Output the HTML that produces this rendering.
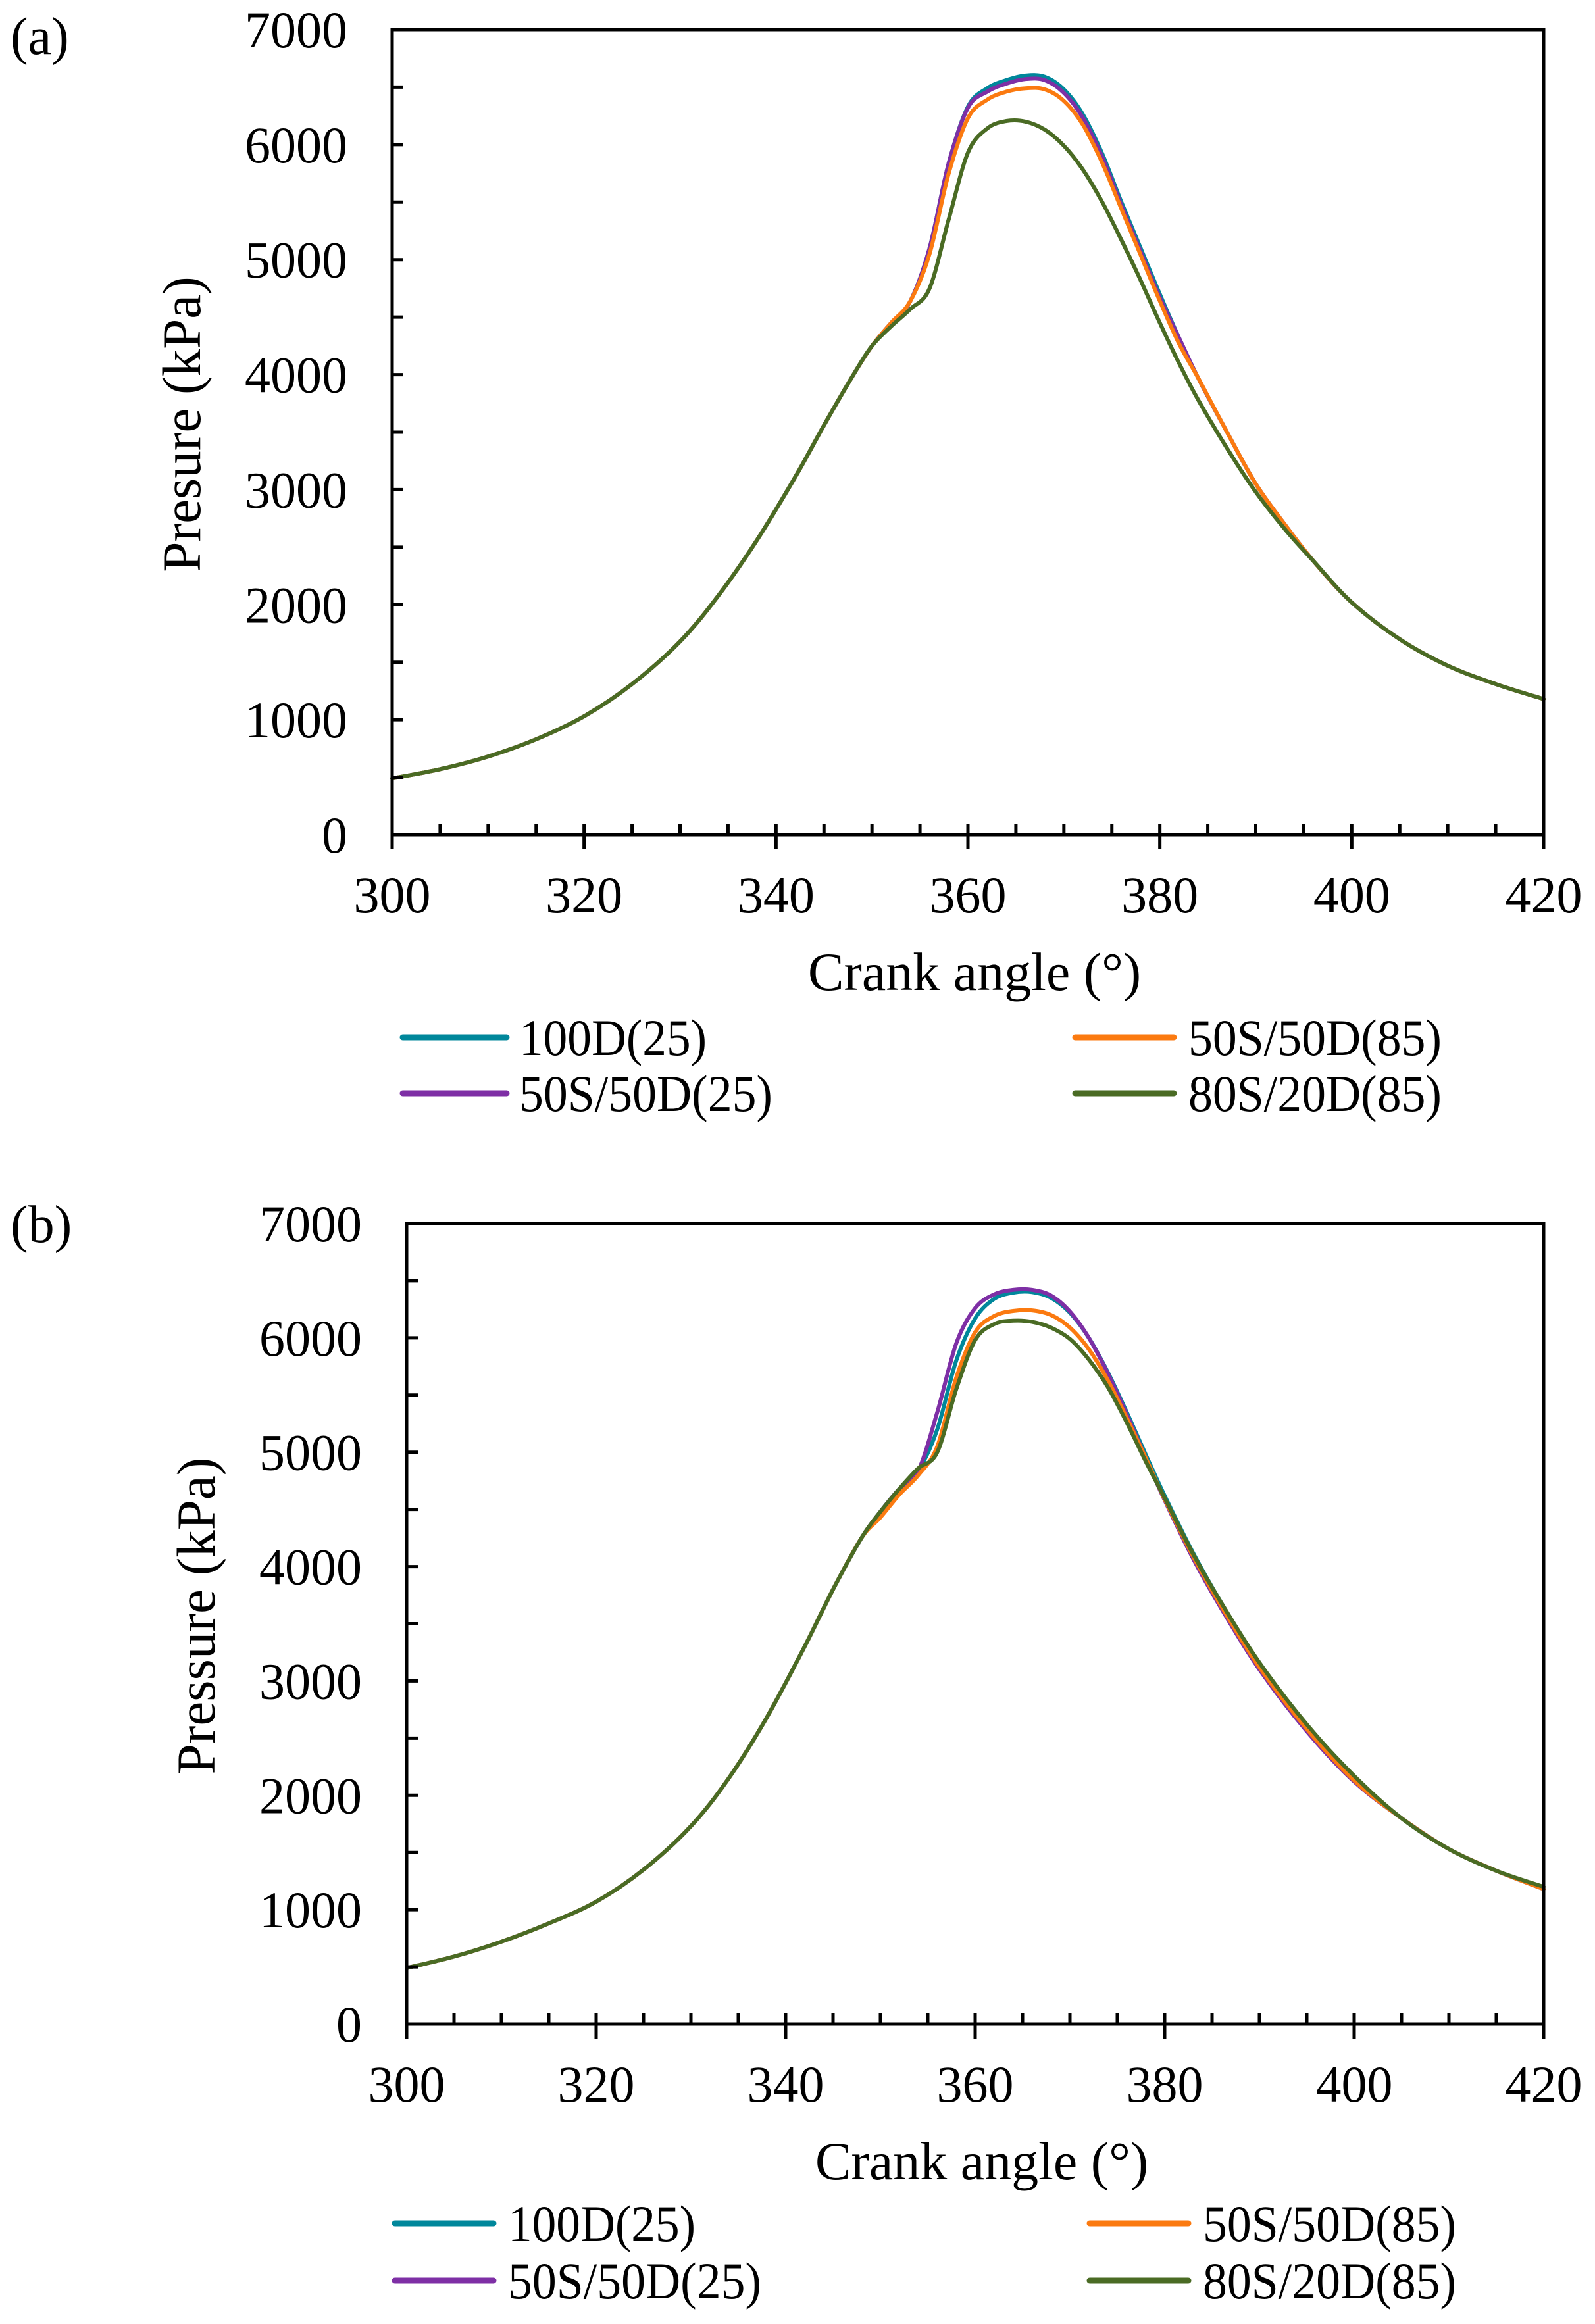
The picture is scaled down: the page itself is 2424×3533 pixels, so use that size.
<!DOCTYPE html>
<html><head><meta charset="utf-8"><style>
html,body{margin:0;padding:0;background:#fff;}
svg{display:block;}
text{font-family:"Liberation Serif","Times New Roman",serif;fill:#000;}
</style></head><body>
<svg id="s" width="2424" height="3533" viewBox="0 0 2424 3533" xmlns="http://www.w3.org/2000/svg">
<rect width="2424" height="3533" fill="#fff"/>
<text x="16" y="82" font-size="80">(a)</text>
<text x="16" y="1888" font-size="80">(b)</text>
<g id="ga"></g><g id="gb"></g>
</svg>
<script>
var NS="http://www.w3.org/2000/svg";
function el(p,n,a,t){var e=document.createElementNS(NS,n);for(var k in a)e.setAttribute(k,a[k]);if(t!==undefined)e.textContent=t;p.appendChild(e);return e;}
function path(pts){
  var d="M"+pts[0][0].toFixed(1)+","+pts[0][1].toFixed(1);
  for(var i=0;i<pts.length-1;i++){
    var p0=pts[i-1]||pts[i],p1=pts[i],p2=pts[i+1],p3=pts[i+2]||p2;
    var c1=[p1[0]+(p2[0]-p0[0])/6,p1[1]+(p2[1]-p0[1])/6];
    var c2=[p2[0]-(p3[0]-p1[0])/6,p2[1]-(p3[1]-p1[1])/6];
    d+="C"+c1[0].toFixed(1)+","+c1[1].toFixed(1)+" "+c2[0].toFixed(1)+","+c2[1].toFixed(1)+" "+p2[0].toFixed(1)+","+p2[1].toFixed(1);
  }
  return d;
}
function merge(base,over){var m={};base.forEach(function(p){m[p[0]]=p[1];});over.forEach(function(p){m[p[0]]=p[1];});
  return Object.keys(m).map(Number).sort(function(a,b){return a-b;}).map(function(k){return [k,m[k]];});}
function chart(g,L,R,T,B,leg,series){
  var X=function(v){return L+(v-300)/120*(R-L);},Y=function(v){return B-v/7000*(B-T);};
  series.forEach(function(s){
    el(g,"path",{d:path(s.pts.map(function(p){return [X(p[0]),Y(p[1])];})),fill:"none",stroke:s.c,"stroke-width":6,"stroke-linejoin":"round","stroke-linecap":"round"});
  });
  el(g,"rect",{x:L,y:T,width:R-L,height:B-T,fill:"none",stroke:"#000","stroke-width":5});
  for(var v=300;v<=420;v+=5){var x=X(v);
    if(v%20==0){el(g,"line",{x1:x,y1:B-17,x2:x,y2:B+22,stroke:"#000","stroke-width":5});
      el(g,"text",{x:x,y:B+118,"font-size":78,"text-anchor":"middle"},String(v));}
    else el(g,"line",{x1:x,y1:B-17,x2:x,y2:B,stroke:"#000","stroke-width":5});}
  for(var v=0;v<=7000;v+=500){var y=Y(v);
    el(g,"line",{x1:L,y1:y,x2:L+17,y2:y,stroke:"#000","stroke-width":5});
    if(v%1000==0)el(g,"text",{x:L-68,y:y+27,"font-size":78,"text-anchor":"end"},String(v));}
  el(g,"text",{x:(L+R)/2+10,y:B+236,"font-size":82,"text-anchor":"middle"},"Crank angle (°)");
  var cy=(T+B)/2-12;
  el(g,"text",{x:0,y:0,"font-size":83,"text-anchor":"middle",transform:"translate("+(L-292)+","+cy+") rotate(-90)"},leg.ylab);
  leg.items.forEach(function(it){
    el(g,"line",{x1:it.x1,y1:it.y,x2:it.x2,y2:it.y,stroke:it.c,"stroke-width":9,"stroke-linecap":"round"});
    el(g,"text",{x:it.tx,y:it.y+27,"font-size":78,textLength:it.w,lengthAdjust:"spacingAndGlyphs"},it.t);
  });
}
var C={t:"#00879b",o:"#fb7a10",p:"#7e2fa5",g:"#4a6b24"};
var baseA=[[300,490],[305,570],[310,680],[315,830],[320,1030],[325,1310],[330,1680],[334,2080],[338,2560],[342,3110],[345,3560],[348,3990],[350,4250],[352,4450],[354,4640],[356,5100],[358,5840],[360,6330],[362,6490],[364,6560],[366,6600],[368,6590],[370,6480],[372,6260],[374,5920],[376,5500],[378,5100],[380,4700],[382,4320],[384,3970],[387,3500],[390,3050],[393,2700],[396,2380],[400,2020],[405,1700],[410,1470],[415,1310],[420,1180]];
var aP=merge(baseA,[[360,6320],[362,6460],[364,6530],[366,6570],[368,6560],[370,6450],[372,6230],[374,5890],[376,5470],[378,5070],[380,4670]]);
var aO=merge(baseA,[[356,5050],[358,5750],[360,6230],[362,6390],[364,6460],[366,6490],[368,6480],[370,6380],[372,6170],[374,5840],[376,5440],[378,5040],[380,4640],[382,4270]]);
var aG=merge(baseA,[[352,4420],[354,4570],[356,4750],[358,5350],[360,5930],[362,6140],[364,6205],[366,6200],[368,6130],[370,5990],[372,5780],[374,5500],[376,5170],[378,4820],[380,4450],[382,4100],[384,3780],[387,3360],[390,2980],[393,2660]]);
var baseB=[[300,490],[305,590],[310,720],[315,880],[320,1070],[325,1350],[330,1730],[334,2150],[338,2680],[342,3300],[345,3800],[348,4250],[350,4480],[352,4680],[354,4840],[356,5200],[358,5800],[360,6170],[362,6340],[364,6395],[366,6400],[368,6350],[370,6220],[372,6000],[374,5700],[376,5350],[378,4980],[380,4620],[383,4120],[386,3680],[390,3150],[395,2600],[400,2150],[405,1800],[410,1530],[415,1340],[420,1180]];
var bP=merge(baseB,[[356,5350],[358,5950],[360,6260],[362,6380],[364,6420],[366,6420],[368,6370],[370,6230],[372,6000],[374,5690],[376,5330],[378,4950],[380,4580],[383,4070],[386,3630],[390,3100],[395,2560],[400,2120]]);
var bO=merge(baseB,[[350,4430],[352,4630],[354,4800],[356,5050],[358,5650],[360,6050],[362,6190],[364,6235],[366,6240],[368,6200],[370,6090],[372,5900],[374,5630],[376,5300],[378,4950],[380,4590],[383,4090],[386,3650],[390,3120],[395,2580],[400,2130]]);
var bG=merge(baseB,[[354,4860],[356,5000],[358,5550],[360,5980],[362,6120],[364,6150],[366,6140],[368,6090],[370,5990],[372,5810],[374,5570],[376,5260],[378,4920],[380,4600],[383,4110],[386,3680],[390,3160],[395,2620],[400,2170],[420,1200]]);
chart(document.getElementById("ga"),596,2346,45,1269,{ylab:"Presure (kPa)",items:[
 {x1:612,x2:770,y:1577,c:C.t,tx:789,w:285,t:"100D(25)"},
 {x1:612,x2:770,y:1662,c:C.p,tx:789,w:385,t:"50S/50D(25)"},
 {x1:1634,x2:1784,y:1577,c:C.o,tx:1806,w:385,t:"50S/50D(85)"},
 {x1:1634,x2:1784,y:1662,c:C.g,tx:1806,w:385,t:"80S/20D(85)"}]},
 [{c:C.t,pts:baseA},{c:C.p,pts:aP},{c:C.o,pts:aO},{c:C.g,pts:aG}]);
chart(document.getElementById("gb"),618,2346,1860,3077,{ylab:"Pressure (kPa)",items:[
 {x1:600,x2:750,y:3380,c:C.t,tx:772,w:285,t:"100D(25)"},
 {x1:600,x2:750,y:3467,c:C.p,tx:772,w:385,t:"50S/50D(25)"},
 {x1:1656,x2:1806,y:3380,c:C.o,tx:1828,w:385,t:"50S/50D(85)"},
 {x1:1656,x2:1806,y:3467,c:C.g,tx:1828,w:385,t:"80S/20D(85)"}]},
 [{c:C.t,pts:baseB},{c:C.p,pts:bP},{c:C.o,pts:bO},{c:C.g,pts:bG}]);
</script>
</body></html>
